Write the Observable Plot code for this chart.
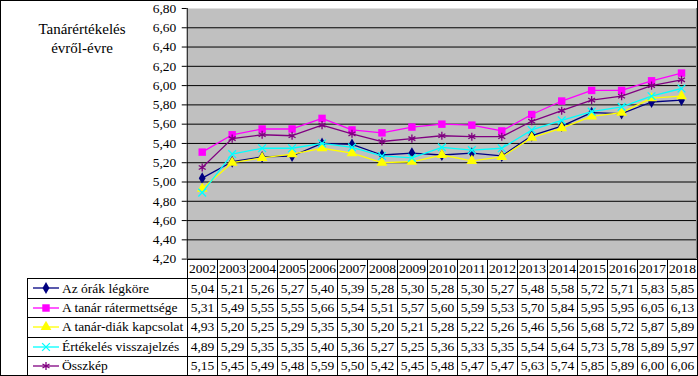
<!DOCTYPE html>
<html>
<head>
<meta charset="utf-8">
<script src="https://cdn.jsdelivr.net/npm/d3@7"></script>
<script src="https://cdn.jsdelivr.net/npm/@observablehq/plot@0.6"></script>
<style>
  html, body { margin: 0; padding: 0; background: #fff; }
  #wrap { position: relative; width: 698px; height: 376px; box-sizing: border-box; border: 1px solid #000; overflow: hidden; font-family: "Liberation Serif", "DejaVu Serif", serif; }
  #chart { position: absolute; left: -1px; top: -1px; }
  #title { position: absolute; left: 20px; top: 19px; width: 122px; text-align: center; font-size: 15px; line-height: 19px; color: #000; }
  table { position: absolute; left: 26px; top: 258px; border-collapse: collapse; table-layout: fixed; font-size: 13.5px; color: #000; }
  td { border: 1px solid #000; padding: 0; height: 18.4px; text-align: center; white-space: nowrap; overflow: hidden; line-height: 16px; }
  td.blank { border: none; }
  td.lab { text-align: left; padding-left: 3px; }
  td.lab svg { vertical-align: middle; margin-right: 1px; position: relative; top: -1px; }
</style>
</head>
<body>
<div id="wrap">
  <div id="chart"></div>
  <div id="title">Tanárértékelés<br>évről-évre</div>
  <table id="tbl"></table>
</div>
<script>
const years = ["2002","2003","2004","2005","2006","2007","2008","2009","2010","2011","2012","2013","2014","2015","2016","2017","2018"];
const seriesNames = ["Az órák légköre", "A tanár rátermettsége", "A tanár-diák kapcsolat", "Értékelés visszajelzés", "Összkép"];
const legkore      = [5.04,5.21,5.26,5.27,5.40,5.39,5.28,5.30,5.28,5.30,5.27,5.48,5.58,5.72,5.71,5.83,5.85];
const ratermettseg = [5.31,5.49,5.55,5.55,5.66,5.54,5.51,5.57,5.60,5.59,5.53,5.70,5.84,5.95,5.95,6.05,6.13];
const kapcsolat    = [4.93,5.20,5.25,5.29,5.35,5.30,5.20,5.21,5.28,5.22,5.26,5.46,5.56,5.68,5.72,5.87,5.89];
const visszajelzes = [4.89,5.29,5.35,5.35,5.40,5.36,5.27,5.25,5.36,5.33,5.35,5.54,5.64,5.73,5.78,5.89,5.97];
const osszkep      = [5.15,5.45,5.49,5.48,5.59,5.50,5.42,5.45,5.48,5.47,5.47,5.63,5.74,5.85,5.89,6.00,6.06];
const yTicks = [4.2,4.4,4.6,4.8,5.0,5.2,5.4,5.6,5.8,6.0,6.2,6.4,6.6,6.8];

const seriesValues = [legkore, ratermettseg, kapcsolat, visszajelzes, osszkep];
const colors = ["#000080", "#FF00FF", "#FFFF00", "#00FFFF", "#800080"];
const symbols = ["diamond", "square", "triangle", "times", "asterisk"];
const filled = [true, true, true, false, false];
const radii = [3.6, 4.2, 4.0, 3.6, 3.8];

const fmt = v => v.toFixed(2).replace(".", ",");
const FONT = "'Liberation Serif', 'DejaVu Serif', serif";

const data = [];
seriesNames.forEach((s, i) => years.forEach((y, j) => data.push({series: s, idx: i, year: y, value: seriesValues[i][j]})));

const marks = [
  Plot.frame({fill: "#C0C0C0", stroke: null}),
  Plot.ruleY(yTicks.filter(t => t < 6.79), {stroke: "#000", strokeWidth: 1}),
  Plot.axisY({ticks: yTicks, tickFormat: fmt, tickSize: 5, tickPadding: 6, label: null, fontSize: 13.5, fontFamily: FONT, fill: "#000", stroke: "#000", strokeOpacity: 1}),
  Plot.ruleX([0], {x: () => years[0], dx: -15, y1: 4.2, y2: 6.8, stroke: "#000"}),
  Plot.ruleX([0], {x: () => years[years.length - 1], dx: 15, y1: 4.2, y2: 6.8, stroke: "#808080"})
];
seriesNames.forEach((s, i) => {
  const d = data.filter(r => r.idx === i);
  marks.push(Plot.line(d, {x: "year", y: "value", stroke: colors[i], strokeWidth: 1.3}));
  marks.push(Plot.dot(d, filled[i]
    ? {x: "year", y: "value", symbol: () => symbols[i], fill: colors[i], stroke: null, r: radii[i]}
    : {x: "year", y: "value", symbol: () => symbols[i], stroke: colors[i], fill: null, strokeWidth: 1.3, r: radii[i]}));
});

const chart = Plot.plot({
  width: 698, height: 376,
  marginLeft: 187, marginRight: 1, marginTop: 8, marginBottom: 117,
  style: {fontFamily: FONT, fontSize: "13.5px", background: "transparent", color: "#000"},
  x: {type: "point", domain: years, padding: 0.5, axis: null},
  y: {domain: [4.2, 6.8], axis: null},
  symbol: {type: "identity"},
  marks
});
document.getElementById("chart").appendChild(chart);

// table aligned with the x scale
const xs = chart.scale("x");
const step = xs.step;
const tbl = d3.select("#tbl");
const cg = tbl.append("colgroup");
cg.append("col").style("width", "160px");
years.forEach(() => cg.append("col").style("width", step + "px"));
tbl.style("width", (160 + step * years.length) + "px");
const hr = tbl.append("tr");
hr.append("td").attr("class", "blank");
years.forEach(y => hr.append("td").text(y));
seriesNames.forEach((s, i) => {
  const tr = tbl.append("tr");
  const lab = tr.append("td").attr("class", "lab");
  const sw = lab.append("svg").attr("width", 30).attr("height", 12);
  sw.append("line").attr("x1", 2).attr("x2", 28).attr("y1", 6).attr("y2", 6).attr("stroke", colors[i]).attr("stroke-width", 1.3);
  const sym = {diamond: d3.symbolDiamond, square: d3.symbolSquare, triangle: d3.symbolTriangle, times: d3.symbolTimes, asterisk: d3.symbolAsterisk}[symbols[i]];
  const p = sw.append("path").attr("transform", "translate(15,6)").attr("d", d3.symbol(sym, Math.PI * radii[i] * radii[i])());
  if (filled[i]) p.attr("fill", colors[i]); else p.attr("fill", "none").attr("stroke", colors[i]).attr("stroke-width", 1.3);
  lab.append("span").text(s);
  seriesValues[i].forEach(v => tr.append("td").text(fmt(v)));
});
</script>
</body>
</html>
